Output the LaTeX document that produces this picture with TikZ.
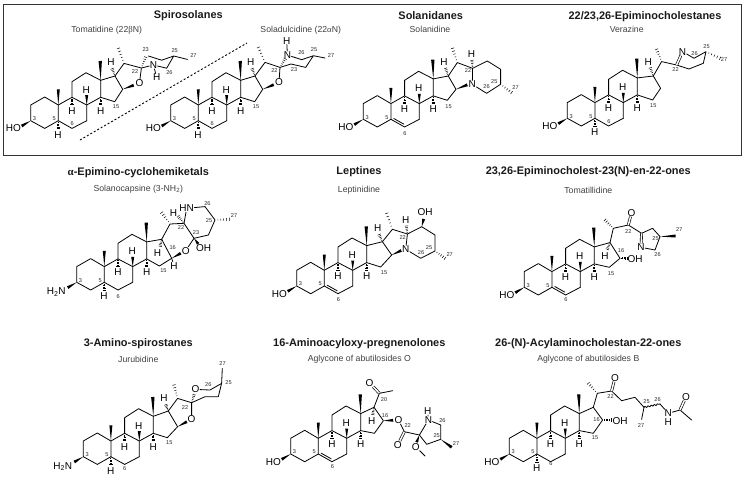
\documentclass[tikz,border=0pt]{standalone}
\usepackage{fontspec}
\setmainfont{Liberation Sans}
\newfontfamily\grk{Liberation Serif}
\usetikzlibrary{calc,decorations.pathmorphing}
\newcounter{lb}
\tikzset{
 bond/.style={line width=.8pt,line join=round,line cap=round},
 dbl/.style={line width=.65pt,double,double distance=1.5pt},
 atom/.style={inner sep=.3pt,font=\fontsize{10}{10}\selectfont,text=black},
 num/.style={inner sep=0pt,font=\fontsize{5.6}{6}\selectfont,text=black!85},
 ttl/.style={inner sep=0pt,font=\fontsize{10.95}{12}\selectfont\bfseries,text=black!90},
 sbt/.style={inner sep=0pt,font=\fontsize{8.7}{10}\selectfont,text=black!75},
}
\newcommand\lab[2]{\stepcounter{lb}\node[num] (lb\thelb) at (#1) {#2};}
% solid wedge: narrow at #1, wide at #2
\newcommand\wdg[3][1.5pt]{\fill ($#2$) -- ($#3!#1!90:#2$) -- ($#3!#1!-90:#2$) -- cycle;}
% hashed wedge
\newcommand\hsh[3][1.4]{\foreach \hf in {.2,.4,.6,.8,1}{%
  \pgfmathsetmacro\hwid{#1*\hf+.25}%
  \coordinate (hp) at ($#2!\hf!#3$);
  \draw[line width=.5pt] ($(hp)!\hwid pt!90:#2$) -- ($(hp)!\hwid pt!-90:#2$);}}
\newcommand\base{%
 \coordinate (C3) at (0,0); \coordinate (C2) at (0,-15.7); \coordinate (C1) at (14,-23.7);
 \coordinate (C10) at (27.6,-15.7); \coordinate (C5) at (27.6,0); \coordinate (C4) at (14,7.7);
 \coordinate (C6) at (41.3,7.7); \coordinate (C7) at (56,0); \coordinate (C8) at (56,-15.7);
 \coordinate (C9) at (41.3,-23.4); \coordinate (C11) at (41.3,-39); \coordinate (C12) at (55.3,-48);
 \coordinate (C13) at (70,-40.4); \coordinate (C14) at (70,-23.4); \coordinate (C15) at (84,-19);
 \coordinate (C16) at (92,-31.4); \coordinate (C17) at (84.3,-44.7);
 \draw[bond] (C3)--(C2)--(C1)--(C10)--(C5)--(C4)--cycle (C10)--(C9)--(C8)--(C7)
   (C9)--(C11)--(C12)--(C13)--(C14)--(C8);
 \wdg{(C10)}{(27.6,-31.4)}
 \wdg[1.7pt]{(C13)}{(69.5,-59.7)}
 \wdg{(C8)}{(56,-25.5)}
 \node[atom] (H8) at (55.5,-31) {H};
 \hsh{(C9)}{(41.3,-16)}
 \node[atom] (H9) at (41.3,-10) {H};
 \hsh{(C14)}{(70,-16)}
 \node[atom] (H14) at (70,-10) {H};
 \lab{3.8,-2}{3}\lab{23.6,-2}{5}}
\newcommand\ho{\wdg{(C3)}{(-9,5.3)}\node[atom] (HO) at (-17.4,7.7) {HO};}
\newcommand\nh{\wdg{(C3)}{(-9,5.3)}\node[atom] (NH) at (-20.5,10) {H\textsubscript{2}N};}
\newcommand\sat[1]{\draw[bond] (C5)--(C6)--(C7);
 \hsh{(C5)}{(27.6,8)}\node[atom] (H5) at (27.4,13.9) {H};\lab{41.5,#1}{6}}
\newcommand\uns[1]{\draw[bond] (C6)--(C7) (C5)--(C6);
 \draw[bond] ($(C5)!3pt!45:(C6)$) -- ($(C6)!3pt!-45:(C5)$);\lab{41.7,#1}{6}}
\newcommand\ringD{\draw[bond] (C13)--(C17)--(C16)--(C15)--(C14);}
\begin{document}
\begin{tikzpicture}[x=1pt,y=-1pt]
\useasboundingbox (0,0) rectangle (744,477);
\draw[line width=1pt,black!80] (3.5,4) rectangle (741.5,155);
\draw[line width=.9pt,dash pattern=on 2pt off 2pt] (80,140) -- (247,43);
% titles
\node[ttl] (t1) at (188.3,16) {Spirosolanes};
\node[sbt] (s1) at (106.7,30) {Tomatidine (22{\grk β}N)};
\node[sbt] (s2) at (300.7,30) {Soladulcidine (22{\grk α}N)};
\node[ttl] (t2) at (430.7,16) {Solanidanes};
\node[sbt] (s3) at (430,29.3) {Solanidine};
\node[ttl] (t3) at (645,16.7) {22/23,26-Epiminocholestanes};
\node[sbt] (s4) at (626.7,29.3) {Verazine};
\node[ttl] (t4) at (138.3,172.7) {{\grk α}-Epimino-cyclohemiketals};
\node[sbt] (s5) at (138.3,189.3) {Solanocapsine (3-NH\textsubscript{2})};
\node[ttl] (t5) at (359,171.7) {Leptines};
\node[sbt] (s6) at (359,190) {Leptinidine};
\node[ttl] (t6) at (588.3,171.7) {23,26-Epiminocholest-23(N)-en-22-ones};
\node[sbt] (s7) at (588.3,190) {Tomatillidine};
\node[ttl] (t7) at (138.3,344) {3-Amino-spirostanes};
\node[sbt] (s8) at (138.3,359) {Jurubidine};
\node[ttl] (t8) at (359.3,344) {16-Aminoacyloxy-pregnenolones};
\node[sbt] (s9) at (359.3,359) {Aglycone of abutilosides O};
\node[ttl] (t9) at (588.3,344) {26-(N)-Acylaminocholestan-22-ones};
\node[sbt] (s10) at (588.3,359) {Aglycone of abutilosides B};
% 1 Tomatidine
\begin{scope}[shift={(30.7,120.7)}]
\base\ho\sat{3.3}\ringD\lab{85.3,-14}{15}
\coordinate (C20) at (93.3,-57.3); \coordinate (C22) at (110.7,-52.7); \coordinate (C23) at (117.7,-64.7);
\coordinate (C24) at (131,-60.5); \coordinate (C25) at (143,-64.7); \coordinate (C26) at (136,-52.5);
\node[atom] (O) at (108.7,-37.3) {O};
\node[atom] (N) at (122.7,-55.7) {N};
\node[atom] (HN) at (126,-43.3) {H};
\node[atom] (H17) at (80.3,-58.3) {H};
\draw[bond] (C17)--(C20)--(C22)--(O) (C22)--(N) (N)--(C26)--(C25)--(C24)--(C23) (C25)--(156.7,-61.3) (N)--(HN);
\hsh{(C20)}{(87.7,-72.3)}
\hsh{(C17)}{(81.5,-52)}
\hsh{(C22)}{(115,-63.5)}
\wdg{(C16)}{(103,-35.5)}
\lab{115,-70.7}{23}\lab{144,-70}{25}\lab{162.7,-64.7}{27}\lab{138.7,-48.3}{26}\lab{104.3,-49}{22}
\end{scope}
% 2 Soladulcidine
\begin{scope}[shift={(170.7,120.7)}]
\base\ho\sat{3.3}\ringD\lab{85.3,-14}{15}
\coordinate (C20) at (94.3,-58.3); \coordinate (C22) at (109.3,-53.3);
\coordinate (C23) at (120.3,-56.7); \coordinate (C24) at (135,-53.3); \coordinate (C25) at (142.7,-65); \coordinate (C26) at (131,-61);
\node[atom] (O) at (108.3,-38.3) {O};
\node[atom] (N) at (116.7,-65.7) {N};
\node[atom] (HN) at (116,-80) {H};
\node[atom] (H17) at (80,-59) {H};
\draw[bond] (C17)--(C20)--(C22)--(O) (N)--(C26)--(C25)--(C24)--(C23)--(C22) (C25)--(154.3,-62.7) (N)--(HN);
\hsh{(C20)}{(87.7,-73.3)}
\hsh{(C17)}{(81.5,-52)}
\hsh{(C22)}{(114.5,-62)}
\wdg{(C16)}{(103,-36)}
\lab{130.7,-67.7}{26}\lab{143.3,-71}{25}\lab{160.3,-65}{27}\lab{123.3,-51}{23}\lab{103.7,-50}{22}
\end{scope}
% 3 Solanidine
\begin{scope}[shift={(363.3,119.3)}]
\base\ho\uns{14.7}\coordinate (C17) at (85,-43.3);\coordinate (C16) at (92.7,-30);\ringD\lab{85.3,-12.5}{15}
\coordinate (C20) at (94,-56.7); \coordinate (C22) at (109.3,-51); \coordinate (C23) at (124,-58.3);
\coordinate (C24) at (137.3,-50); \coordinate (C25) at (137.3,-35); \coordinate (C26) at (123.3,-26);
\node[atom] (N) at (109,-35) {N};
\node[atom] (H17) at (80.7,-57) {H};
\node[atom] (H22) at (108.3,-65.3) {H};
\draw[bond] (C17)--(C20)--(C22)--(N)--(C26)--(C25)--(C24)--(C23)--(C22);
\hsh{(C20)}{(89.3,-71)}
\hsh{(C17)}{(82.3,-51)}
\hsh{(C22)}{(108.7,-59)}
\hsh{(C25)}{(148.3,-26.7)}
\wdg{(C16)}{(104,-34.5)}
\lab{152.3,-31.7}{27}\lab{131,-37.7}{25}\lab{123.3,-32.7}{26}\lab{104.7,-48.3}{22}
\end{scope}
% 4 Verazine
\begin{scope}[shift={(567.3,118.3)}]
\base\ho\sat{3.3}\coordinate (C17) at (86,-42.3);\coordinate (C16) at (93.3,-30);\coordinate (C15) at (85.3,-18.3);\ringD\lab{86,-12.7}{15}
\coordinate (C20) at (94.3,-56.7); \coordinate (C22) at (109.3,-53.3); \coordinate (C23) at (121.7,-49.3);
\coordinate (C24) at (136,-55); \coordinate (C25) at (138.7,-66.7); \coordinate (C26) at (126.7,-60);
\node[atom] (N) at (115.3,-66.7) {N};
\node[atom] (H17) at (81,-56.7) {H};
\draw[bond] (C17)--(C20)--(C22)--(C23)--(C24)--(C25)--(C26)--(N);
\draw[dbl] (C22)--(N);
\hsh{(C20)}{(89.3,-69)}
\hsh{(C17)}{(83,-50.5)}
\hsh{(C25)}{(152.7,-60)}
\lab{108.3,-49}{22}\lab{127.3,-65}{26}\lab{139.3,-71.7}{25}\lab{156.7,-59}{27}
\end{scope}
% 5 Solanocapsine
\begin{scope}[shift={(76.7,282.3)}]
\base\nh\sat{14.3}\coordinate (C17) at (85,-43);\coordinate (C16) at (95,-24);\coordinate (C15) at (82.7,-16.3);\ringD\lab{86.7,-11.7}{15}
\coordinate (C20) at (93.3,-58.3); \coordinate (C22) at (107.3,-59); \coordinate (C23) at (117.3,-44);
\coordinate (C24) at (131.7,-47.3); \coordinate (C25) at (138.3,-62.3); \coordinate (C26) at (128.3,-75.7);
\node[atom] (O) at (109,-31.7) {O};
\node[atom] (OH) at (127,-34) {OH};
\node[atom] (NHb) at (110,-74) {HN};
\node[atom] (H17) at (80.7,-29) {H};
\node[atom] (H22) at (96.7,-69.7) {H};
\node[atom] (H16) at (97.3,-16.7) {H};
\draw[bond] (C17)--(C20)--(C22)--(C23)--(C24)--(C25)--(C26)--(NHb)--(C22) (C23)--(O) (C16)--(H16);
\hsh{(C20)}{(85,-69.7)}
\hsh{(C22)}{(101.5,-66)}
\hsh{(C17)}{(83.5,-36)}
\hsh{(C25)}{(152.7,-63)}
\wdg{(C16)}{(104,-29)}
\wdg{(C23)}{(121.5,-38.5)}
\lab{157.3,-66.3}{27}\lab{130.7,-79}{26}\lab{132.3,-61.7}{25}\lab{119.3,-50}{23}\lab{104.3,-55}{22}\lab{96,-34.7}{16}
\end{scope}
% 6 Leptinidine
\begin{scope}[shift={(296.7,286)}]
\base\ho\uns{14}\coordinate (C17) at (85.7,-44.3);\coordinate (C16) at (95,-31);\ringD\lab{87.3,-13.3}{15}
\coordinate (C20) at (95.7,-56.7); \coordinate (C22) at (110.7,-52); \coordinate (C23) at (125,-59.3);
\coordinate (C24) at (138.3,-51); \coordinate (C25) at (138.3,-35); \coordinate (C26) at (124,-27.7);
\node[atom] (N) at (109,-36.7) {N};
\node[atom] (OH) at (128.3,-73.7) {OH};
\node[atom] (H17) at (81,-57.7) {H};
\node[atom] (H22) at (109,-66) {H};
\draw[bond] (C17)--(C20)--(C22)--(N)--(C26)--(C25)--(C24)--(C23)--(C22);
\hsh{(C20)}{(90,-72.7)}
\hsh{(C17)}{(82.5,-51.5)}
\hsh{(C22)}{(109.7,-60)}
\hsh{(C25)}{(148.3,-27.7)}
\wdg{(C16)}{(104.5,-35.5)}
\wdg{(C23)}{(127,-67)}
\lab{153,-31.7}{27}\lab{132.3,-38.3}{25}\lab{124.3,-33.3}{26}\lab{106,-48.7}{22}
\end{scope}
% 7 Tomatillidine
\begin{scope}[shift={(524.3,287.3)}]
\base\ho\uns{12.7}\coordinate (C17) at (85.7,-44.7);\coordinate (C16) at (95.7,-29);\coordinate (C15) at (85,-20);\ringD\lab{86.7,-14}{15}
\coordinate (C20) at (89,-59); \coordinate (C22) at (104,-62.3); \coordinate (C23) at (117.3,-54);
\coordinate (C24) at (128.3,-59); \coordinate (C25) at (135.7,-50.7); \coordinate (C26) at (130.7,-37.3);
\node[atom] (O) at (107.3,-74.7) {O};
\node[atom] (N) at (116.7,-40) {N};
\node[atom] (OH) at (110.7,-28.3) {OH};
\node[atom] (H17) at (80.7,-31.3) {H};
\draw[bond] (C17)--(C20)--(C22)--(C23)--(C24)--(C25)--(C26)--(N);
\draw[dbl] (C22)--(O);
\draw[dbl] (C23)--(N);
\hsh{(C20)}{(80.7,-67.3)}
\hsh{(C17)}{(83,-38)}
\hsh{(C16)}{(102.5,-29)}
\wdg{(C25)}{(151.3,-51.3)}
\lab{155,-57.3}{27}\lab{131.3,-49}{25}\lab{133.3,-32.3}{26}\lab{104,-55.7}{22}\lab{96.7,-36.3}{16}
\end{scope}
% 8 Jurubidine
\begin{scope}[shift={(83.3,456.7)}]
\base\nh\sat{11.7}\coordinate (C17) at (85,-45.7);\coordinate (C16) at (94.3,-30);\ringD\lab{86,-14.3}{15}
\coordinate (C20) at (94.3,-58.3); \coordinate (C22) at (108.3,-54); \coordinate (C23) at (121.7,-60);
\coordinate (C24) at (135,-60); \coordinate (C25) at (138.3,-73.3); \coordinate (C26) at (126.7,-66.7);
\node[atom] (O) at (108.3,-37.7) {O};
\node[atom] (Ob) at (112.3,-67.3) {O};
\node[atom] (H17) at (80.7,-58.3) {H};
\draw[bond] (C17)--(C20)--(C22)--(O) (C22)--(C23)--(C24)--(C25)--(C26)--(Ob) (C25)--(139,-88.3);
\hsh{(C20)}{(90.7,-71.7)}
\hsh{(C17)}{(82.5,-52)}
\hsh{(C22)}{(110.8,-62)}
\wdg{(C16)}{(103.5,-35)}
\lab{139.3,-92.7}{27}\lab{145.3,-74}{25}\lab{125,-71.7}{26}\lab{101.7,-49.3}{22}
\end{scope}
% 9 Abutiloside O
\begin{scope}[shift={(290.7,454)}]
\base\ho\uns{12.7}\coordinate (C17) at (83.3,-46.7);\coordinate (C16) at (92.7,-33.3);\coordinate (C15) at (83.7,-20.7);\ringD
\coordinate (C20) at (88.7,-60.7); \coordinate (C22) at (113.7,-22.3); \coordinate (C23) at (128.7,-19);
\coordinate (C24) at (136,-9.7); \coordinate (C25) at (150,-14.7); \coordinate (C26) at (150,-29);
\node[atom] (Oa) at (78.7,-71.3) {O};
\node[atom] (Ob) at (107.7,-34) {O};
\node[atom] (Oc) at (107,-9) {O};
\node[atom] (Od) at (125,-7.3) {O};
\node[atom] (N) at (137.7,-34) {N};
\node[atom] (HN) at (137,-42.8) {H};
\node[atom] (H17) at (81,-33.3) {H};
\draw[bond] (C17)--(C20)--(102,-63.3) (Ob)--(C22)--(C23)--(C24)--(C25)--(C26)--(N)--(C23) (N)--(HN) (Od)--(134.3,2);
\draw[dbl] (C20)--(Oa);
\draw[dbl] (C22)--(Oc);
\hsh{(C17)}{(82,-39.5)}
\wdg{(C23)}{(126,-11.8)}
\wdg{(C16)}{(102.5,-33.7)}
\wdg{(C25)}{(161,-6.7)}
\lab{165.3,-10.7}{27}\lab{146,-18}{25}\lab{151.7,-33.3}{26}\lab{117,-28}{22}\lab{93.3,-54.7}{20}\lab{94.3,-38.3}{16}
\end{scope}
% 10 Abutiloside B
\begin{scope}[shift={(509.3,454)}]
\base\ho\sat{10}\coordinate (C17) at (84,-46.7);\coordinate (C16) at (93.3,-34);\coordinate (C15) at (84,-20.7);\ringD\lab{85.7,-16.3}{15}
\coordinate (C20) at (88,-60.7); \coordinate (C22) at (102.3,-63); \coordinate (C23) at (112.3,-53.3);
\coordinate (C24) at (125.7,-56.7); \coordinate (C25) at (134.7,-46.7); \coordinate (C26) at (150.7,-50);
\coordinate (C28) at (170.7,-44);
\node[atom] (Oa) at (105.7,-76.3) {O};
\node[atom] (Ob) at (176.7,-57.3) {O};
\node[atom] (N) at (159,-40.7) {N};
\node[atom] (HN) at (159,-31.7) {H};
\node[atom] (OH) at (110.7,-33.3) {OH};
\draw[bond] (C17)--(C20)--(C22)--(C23)--(C24)--(C25)--(132.3,-34.7) (C26)--(N)--(C28)--(182.3,-34);
\draw[bond,decorate,decoration={snake,amplitude=.7pt,segment length=3.2pt}] (C25)--(C26);
\draw[dbl] (C22)--(Oa);
\draw[dbl] (C28)--(Ob);
\hsh{(C20)}{(79,-70.7)}
\hsh{(C16)}{(101.5,-34)}
\lab{131.7,-28}{27}\lab{137.3,-52.3}{25}\lab{148.3,-54.7}{26}\lab{101.3,-57.3}{22}\lab{87.3,-34}{16}
\end{scope}
\end{tikzpicture}
\end{document}
